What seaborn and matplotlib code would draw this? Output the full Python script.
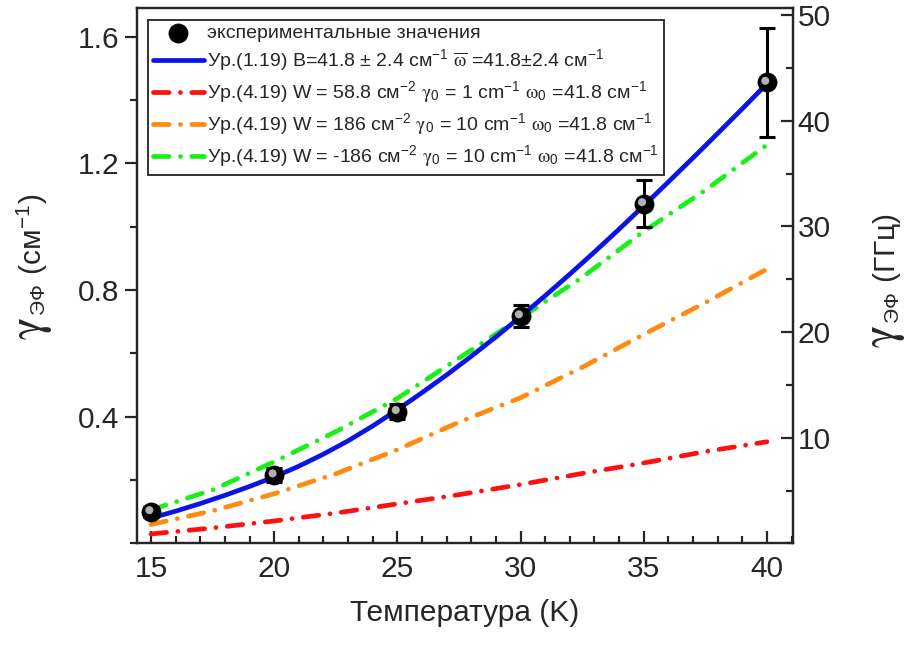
import numpy as np
import pandas as pd
import matplotlib
matplotlib.use("Agg")
import matplotlib.pyplot as plt
import matplotlib.transforms as mtransforms
from matplotlib.ticker import MultipleLocator
import seaborn as sns

# --- data ---
temp_exp = [15, 20, 25, 30, 35, 40]
gamma_exp = [0.100, 0.216, 0.416, 0.718, 1.072, 1.455]
gamma_err = [0.016, 0.022, 0.024, 0.034, 0.074, 0.172]

# blue fit read at 1 K steps
temp_blue = [15, 16, 17, 18, 19, 20, 21, 22, 23, 24, 25, 26, 27,
             28, 29, 30, 31, 32, 33, 34, 35, 36, 37, 38, 39, 40]
fit_blue = [0.080, 0.102, 0.126, 0.152, 0.180, 0.210, 0.244, 0.282, 0.324,
            0.371, 0.422, 0.476, 0.532, 0.591, 0.652, 0.716, 0.782, 0.850,
            0.920, 0.992, 1.066, 1.141, 1.217, 1.294, 1.372, 1.451]

# dash-dot model curves read at 2.5 K steps
temp_fit = [15, 17.5, 20, 22.5, 25, 27.5, 30, 32.5, 35, 37.5, 40]
fit_red = [0.030, 0.049, 0.071, 0.096, 0.125, 0.154, 0.186, 0.221, 0.254, 0.290, 0.321]
fit_orange = [0.060, 0.103, 0.157, 0.220, 0.296, 0.383, 0.460, 0.556, 0.660, 0.760, 0.866]
fit_green = [0.106, 0.169, 0.258, 0.353, 0.458, 0.585, 0.712, 0.840, 0.985, 1.115, 1.258]

CM_TO_GHZ = 29.98

labels = [
    'экспериментальные значения',
    r'Ур.(1.19) B=41.8 $\pm$ 2.4 см$^{-1}$ $\overline{ω}$ =41.8$\pm$2.4 см$^{-1}$',
    r'Ур.(4.19) W = 58.8 см$^{-2}$ $γ_0$ = 1 cm$^{-1}$ $ω_0$ =41.8 см$^{-1}$',
    r'Ур.(4.19) W = 186 см$^{-2}$ $γ_0$ = 10 cm$^{-1}$ $ω_0$ =41.8 см$^{-1}$',
    r'Ур.(4.19) W = -186 см$^{-2}$ $γ_0$ = 10 cm$^{-1}$ $ω_0$ =41.8 см$^{-1}$',
]

sns.set_theme(style="ticks")
plt.rcParams['font.family'] = ['Liberation Sans', 'DejaVu Sans']
plt.rcParams['mathtext.fontset'] = 'custom'
plt.rcParams['mathtext.rm'] = 'Liberation Sans'
plt.rcParams['mathtext.it'] = 'STIXGeneral'
plt.rcParams['axes.linewidth'] = 1.6

fig = plt.figure(figsize=(9.09, 6.46), dpi=100)
ax = fig.add_axes([0.1507, 0.1587, 0.7217, 0.8289])

blue_df = pd.DataFrame({"T": temp_blue, "gamma": fit_blue})
fits = pd.DataFrame({"T": temp_fit, "red": fit_red,
                     "orange": fit_orange, "green": fit_green})

dashdot = (0, (3.3, 2.4, 0.01, 2.4))
lw = 3.4
sns.lineplot(data=blue_df, x="T", y="gamma", ax=ax, color="#0a14e6", lw=lw,
             label=labels[1], zorder=4)
sns.lineplot(data=fits, x="T", y="red", ax=ax, color="#ff1010", lw=lw,
             linestyle=dashdot, dash_capstyle="round", label=labels[2], zorder=3)
sns.lineplot(data=fits, x="T", y="orange", ax=ax, color="#ff8a0f", lw=lw,
             linestyle=dashdot, dash_capstyle="round", label=labels[3], zorder=3)
sns.lineplot(data=fits, x="T", y="green", ax=ax, color="#18f018", lw=lw,
             linestyle=dashdot, dash_capstyle="round", label=labels[4], zorder=3)

# experimental points with error bars
ax.errorbar(temp_exp, gamma_exp, yerr=gamma_err, fmt='none', ecolor='black',
            elinewidth=2.2, capsize=6, capthick=2.2, zorder=5)
sns.scatterplot(x=temp_exp, y=gamma_exp, ax=ax, color='black', s=190,
                edgecolor='black', linewidth=0.5, zorder=6, label=labels[0])
hl = mtransforms.offset_copy(ax.transData, fig=fig, x=-1.2, y=1.2, units='points')
ax.scatter(temp_exp, gamma_exp, s=34, color='#b0b0b0', edgecolor='none',
           transform=hl, zorder=7)

ax.set_xlim(14.43, 41.06)
ax.set_ylim(0, 1.69)
ax.xaxis.set_major_locator(MultipleLocator(5))
ax.xaxis.set_minor_locator(MultipleLocator(1))
ax.set_yticks([0.4, 0.8, 1.2, 1.6])
ax.yaxis.set_minor_locator(MultipleLocator(0.2))
ax.tick_params(axis='x', which='both', direction='in', top=False, labelsize=21.5,
               width=1.6, pad=8)
ax.tick_params(axis='x', which='major', length=9)
ax.tick_params(axis='x', which='minor', length=5)
ax.tick_params(axis='y', which='both', direction='out', right=False, labelsize=21.5,
               width=1.6)
ax.tick_params(axis='y', which='major', length=9)
ax.tick_params(axis='y', which='minor', length=5)
ax.set_xlabel('Температура (K)', fontsize=21.5, labelpad=12)
ax.set_ylabel('')

ax2 = ax.twinx()
ax2.set_ylim(0, 1.69 * CM_TO_GHZ)
ax2.set_yticks([10, 20, 30, 40, 50])
ax2.yaxis.set_minor_locator(MultipleLocator(5))
ax2.tick_params(axis='y', which='both', direction='in', labelsize=21.5, width=1.6)
ax2.tick_params(axis='y', which='major', length=9)
ax2.tick_params(axis='y', which='minor', length=5)
ax2.set_ylabel('')

handles, labs = ax.get_legend_handles_labels()
order = [labs.index(l) for l in labels]
leg = ax.legend([handles[i] for i in order], [labs[i] for i in order],
                loc='upper left', bbox_to_anchor=(0.017, 0.978), borderaxespad=0,
                fontsize=14, frameon=True, fancybox=False, edgecolor='black',
                handlelength=2.6, handletextpad=0.2, labelspacing=0.3,
                borderpad=0.25)
leg.get_frame().set_linewidth(1.4)
leg.set_zorder(10)


# axis titles: large gamma + smaller rest, stacked along the rotated baseline
def gamma_label(x_px, y_px, rest):
    kw = dict(rotation=90, rotation_mode='anchor', ha='left', va='baseline',
              transform=None)
    g = fig.text(x_px, y_px, r'$γ$', fontsize=34, **kw)
    fig.canvas.draw()
    bb = g.get_window_extent()
    fig.text(x_px, bb.y1 + 1, rest, fontsize=21.5, **kw)


H = 646
gamma_label(42, H - 340, r'$_{\mathrm{ЭФ}}$ (см$^{-1}$)')
gamma_label(895, H - 348, r'$_{\mathrm{ЭФ}}$ (ГГц)')

fig.savefig("out.png", dpi=100)
